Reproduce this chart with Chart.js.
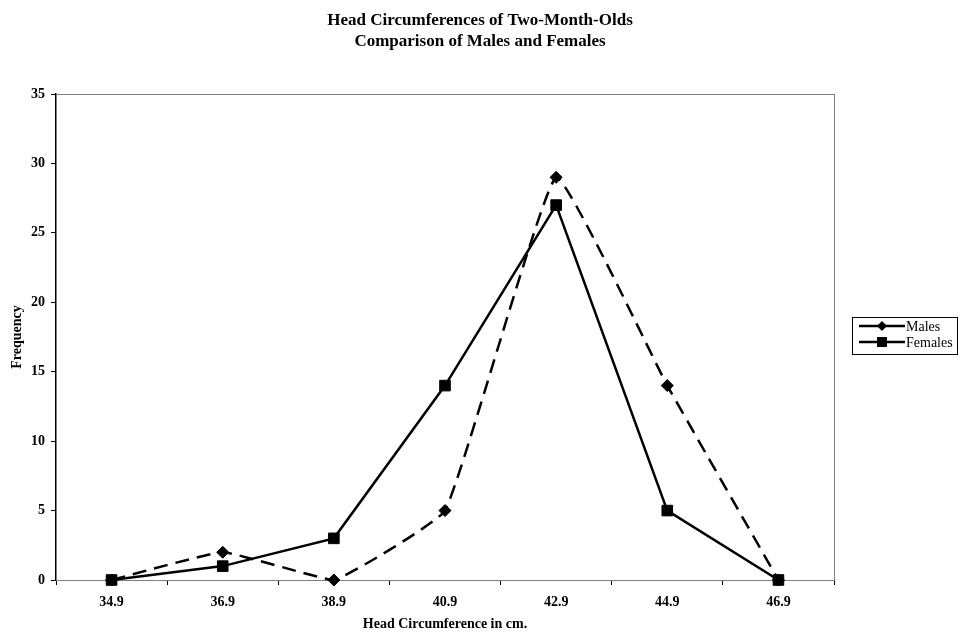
<!DOCTYPE html>
<html>
<head>
<meta charset="utf-8">
<script src="https://cdn.jsdelivr.net/npm/chart.js@4.4.1/dist/chart.umd.min.js"></script>
<style>
  html, body { margin: 0; padding: 0; background: #fff; }
  #wrap { width: 961px; height: 634px; position: relative; }
</style>
</head>
<body>
<div id="wrap"><canvas id="headChart" width="961" height="634"></canvas></div>
<script>
// data
const categories = ['34.9', '36.9', '38.9', '40.9', '42.9', '44.9', '46.9'];
const males = [0, 2, 0, 5, 29, 14, 0];
const females = [0, 1, 3, 14, 27, 5, 0];
const titleLines = ['Head Circumferences of Two-Month-Olds', 'Comparison of Males and Females'];

const SERIF = '"Liberation Serif", "Times New Roman", serif';

// title, plot border and legend drawn by hand (Excel look)
const excelBits = {
    id: 'excelBits',
    beforeDatasetsDraw(chart) {
        const { ctx, chartArea: a } = chart;
        ctx.save();
        ctx.strokeStyle = '#808080';
        ctx.lineWidth = 1;
        ctx.strokeRect(a.left + 0.5, a.top + 0.5, a.right - a.left, a.bottom - a.top);
        ctx.restore();
    },
    afterDraw(chart) {
        const { ctx } = chart;
        ctx.save();
        ctx.fillStyle = '#000';
        ctx.textAlign = 'center';
        ctx.textBaseline = 'middle';
        ctx.font = 'bold 17px ' + SERIF;
        ctx.fillText(titleLines[0], 480, 21);
        ctx.fillText(titleLines[1], 480, 42);

        // legend
        const bx = 852, by = 317, bw = 105, bh = 37;
        ctx.strokeStyle = '#000';
        ctx.lineWidth = 1;
        ctx.strokeRect(bx + 0.5, by + 0.5, bw, bh);
        ctx.font = '14px ' + SERIF;
        ctx.textAlign = 'left';
        chart.data.datasets.forEach((ds, i) => {
            const y = 326 + i * 16;
            ctx.beginPath();
            ctx.lineWidth = 2.5;
            ctx.setLineDash([]);
            ctx.moveTo(859, y);
            ctx.lineTo(905, y);
            ctx.stroke();
            if (ds.pointStyle === 'rectRot') {
                ctx.beginPath();
                ctx.moveTo(882, y - 5); ctx.lineTo(887, y); ctx.lineTo(882, y + 5); ctx.lineTo(877, y);
                ctx.closePath();
                ctx.fill();
            } else {
                ctx.fillRect(877, y - 5, 10, 10);
            }
            ctx.fillText(ds.label, 906, y + 1);
        });
        ctx.restore();
    }
};

new Chart(document.getElementById('headChart'), {
    type: 'line',
    data: {
        labels: categories,
        datasets: [
            {
                label: 'Males',
                data: males,
                borderColor: '#000',
                backgroundColor: '#000',
                borderWidth: 2.5,
                borderDash: [14, 8],
                tension: 0.1,
                clip: false,
                pointStyle: 'rectRot',
                pointRadius: 6,
                pointBorderWidth: 1
            },
            {
                label: 'Females',
                data: females,
                borderColor: '#000',
                backgroundColor: '#000',
                borderWidth: 2.5,
                tension: 0,
                clip: false,
                pointStyle: 'rect',
                pointRadius: 7.5,
                pointBorderWidth: 1
            }
        ]
    },
    options: {
        responsive: false,
        animation: false,
        layout: { padding: { top: 94, right: 127, bottom: 0, left: 0 } },
        plugins: {
            legend: { display: false },
            title: { display: false },
            tooltip: { enabled: false }
        },
        scales: {
            x: {
                offset: true,
                grid: { display: true, drawOnChartArea: false, offset: true, tickLength: 5, color: '#000' },
                border: { color: '#808080', width: 1 },
                ticks: { color: '#000', font: { family: SERIF, size: 14, weight: 'bold' }, padding: 9, maxRotation: 0 },
                title: { display: true, text: 'Head Circumference in cm.', color: '#000', font: { family: SERIF, size: 14, weight: 'bold' }, padding: { top: 0, bottom: 1 } },
                afterFit(scale) { scale.height = 54; }
            },
            y: {
                min: 0,
                max: 35,
                ticks: { stepSize: 5, color: '#000', font: { family: SERIF, size: 14, weight: 'bold' }, padding: 6 },
                grid: { display: true, drawOnChartArea: false, tickLength: 5, color: '#000' },
                border: { color: '#000', width: 1.5 },
                title: { display: true, text: 'Frequency', color: '#000', font: { family: SERIF, size: 14, weight: 'bold' }, padding: { top: 9, bottom: 0 } },
                afterFit(scale) { scale.width = 56; }
            }
        }
    },
    plugins: [excelBits]
});
</script>
</body>
</html>
